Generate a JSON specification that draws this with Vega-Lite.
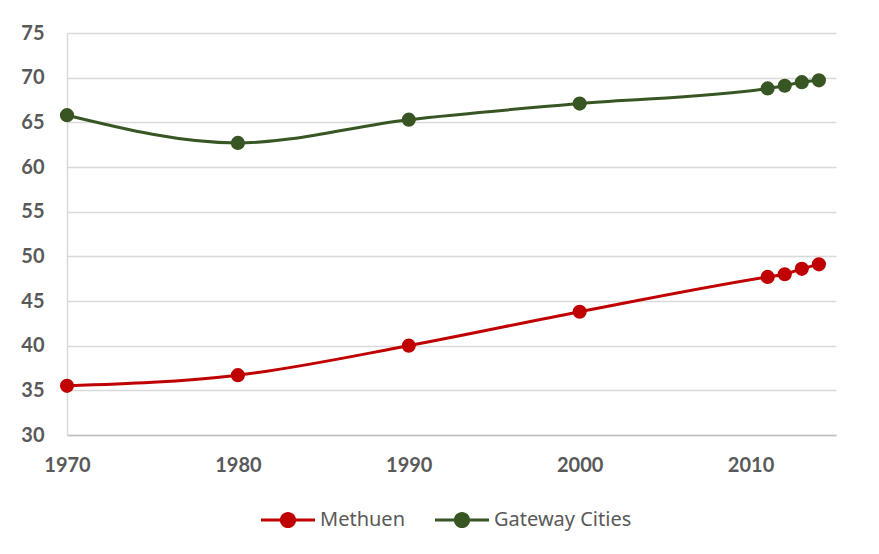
{
  "$schema": "https://vega.github.io/schema/vega-lite/v6.json",
  "width": 769,
  "height": 402,
  "autosize": {"type": "none"},
  "padding": {"left": 67, "top": 33, "right": 43, "bottom": 119},
  "background": "white",
  "config": {"view": {"stroke": null}, "font": "Lato"},
  "data": {
    "values": [
      {"year": 1970, "series": "Methuen", "value": 35.5},
      {"year": 1980, "series": "Methuen", "value": 36.7},
      {"year": 1990, "series": "Methuen", "value": 40.0},
      {"year": 2000, "series": "Methuen", "value": 43.8},
      {"year": 2011, "series": "Methuen", "value": 47.7},
      {"year": 2012, "series": "Methuen", "value": 48.0},
      {"year": 2013, "series": "Methuen", "value": 48.6},
      {"year": 2014, "series": "Methuen", "value": 49.1},
      {"year": 1970, "series": "Gateway Cities", "value": 65.8},
      {"year": 1980, "series": "Gateway Cities", "value": 62.7},
      {"year": 1990, "series": "Gateway Cities", "value": 65.3},
      {"year": 2000, "series": "Gateway Cities", "value": 67.1},
      {"year": 2011, "series": "Gateway Cities", "value": 68.8},
      {"year": 2012, "series": "Gateway Cities", "value": 69.1},
      {"year": 2013, "series": "Gateway Cities", "value": 69.5},
      {"year": 2014, "series": "Gateway Cities", "value": 69.7}
    ]
  },
  "encoding": {
    "x": {
      "field": "year", "type": "quantitative",
      "scale": {"domain": [1970, 2015], "nice": false, "zero": false},
      "axis": {
        "title": null, "values": [1970, 1980, 1990, 2000, 2010], "format": "d",
        "grid": false, "ticks": false, "domainColor": "#BFBFBF", "domainWidth": 1.5,
        "labelFont": "Lato", "labelFontWeight": "bold", "labelFontSize": 20, "labelColor": "#595959",
        "labelPadding": 20, "labelFlush": false
      }
    },
    "y": {
      "field": "value", "type": "quantitative",
      "scale": {"domain": [30, 75], "nice": false, "zero": false},
      "axis": {
        "title": null, "values": [30, 35, 40, 45, 50, 55, 60, 65, 70, 75],
        "grid": true, "gridColor": "#D9D9D9", "gridWidth": 1.5,
        "ticks": false, "domainColor": "#D9D9D9", "domainWidth": 1.5,
        "labelFont": "Lato", "labelFontWeight": "bold", "labelFontSize": 20, "labelColor": "#595959",
        "labelPadding": 23
      }
    },
    "color": {
      "field": "series", "type": "nominal",
      "scale": {"domain": ["Methuen", "Gateway Cities"], "range": ["#C00000", "#375623"]},
      "legend": {
        "title": null, "orient": "none", "direction": "horizontal",
        "legendX": 194, "legendY": 460,
        "symbolType": "M -1 -0.06 L 1 -0.06 L 1 0.06 L -1 0.06 Z M 0.3 0 A 0.3 0.3 0 1 1 -0.3 0 A 0.3 0.3 0 1 1 0.3 0 Z",
        "symbolSize": 2916, "symbolStrokeWidth": 0, "symbolOpacity": 1,
        "labelFont": "Noto Sans", "labelFontSize": 20, "labelColor": "#595959",
        "labelOffset": 5, "columnPadding": 30
      }
    }
  },
  "layer": [
    {"mark": {"type": "line", "interpolate": "monotone", "strokeWidth": 3}},
    {"mark": {"type": "point", "filled": true, "size": 200, "opacity": 1}}
  ]
}
